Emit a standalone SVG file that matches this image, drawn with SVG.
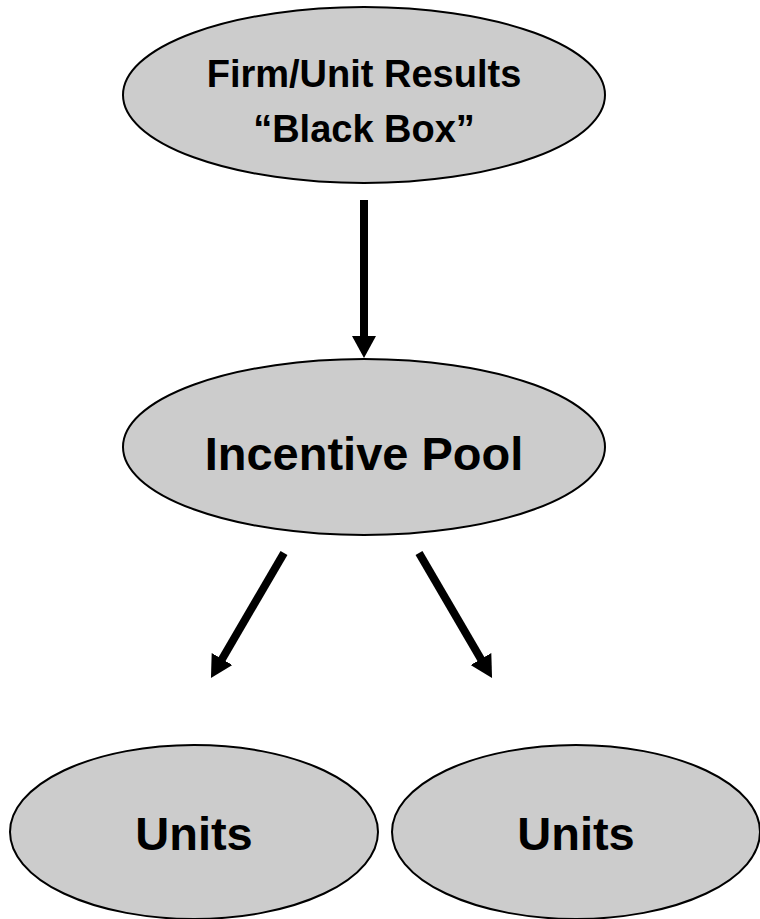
<svg xmlns="http://www.w3.org/2000/svg" width="760" height="919" viewBox="0 0 760 919">
<style>
.node ellipse{fill:#cccccc;stroke:#000;stroke-width:2}
.node text{font-family:"Liberation Sans",Arial,sans-serif;font-weight:bold;fill:#000;text-anchor:middle}
.conn line{stroke:#000;stroke-width:8;fill:none}
</style>
<defs>
<marker id="ah" markerUnits="userSpaceOnUse" markerWidth="22" markerHeight="24" viewBox="0 0 22 24" refX="12" refY="12" orient="auto">
<path d="M0,0 L22,12 L0,24 z" fill="#000"/>
</marker>
</defs>
<rect width="760" height="919" fill="#fff"/>
<g id="n-results" class="node">
<ellipse cx="364" cy="95" rx="241" ry="88"/>
<text x="364" y="87" font-size="38">Firm/Unit Results</text>
<text x="364" y="142" font-size="38">“Black Box”</text>
</g>
<g id="n-pool" class="node">
<ellipse cx="364" cy="447" rx="241" ry="88"/>
<text x="364" y="470" font-size="47">Incentive Pool</text>
</g>
<g id="n-units1" class="node">
<ellipse cx="194" cy="832" rx="184" ry="87"/>
<text x="194" y="850" font-size="47">Units</text>
</g>
<g id="n-units2" class="node">
<ellipse cx="576" cy="832" rx="184" ry="87"/>
<text x="576" y="850" font-size="47">Units</text>
</g>
<g id="connectors" class="conn">
<line x1="364" y1="200" x2="364" y2="348" marker-end="url(#ah)"/>
<line x1="284" y1="553" x2="216" y2="669.4" marker-end="url(#ah)"/>
<line x1="419" y1="553" x2="487" y2="669.4" marker-end="url(#ah)"/>
</g>
</svg>
